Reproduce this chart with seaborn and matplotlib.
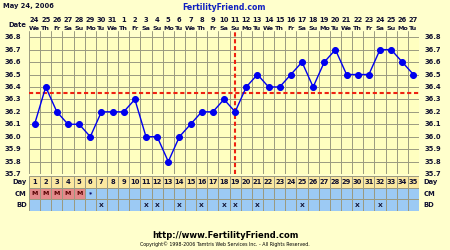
import matplotlib
matplotlib.use("Agg")
import matplotlib.pyplot as plt
import seaborn as sns
import pandas as pd
from matplotlib.patches import Rectangle

# ---- data ----
days = list(range(1, 36))
temps = [36.1, 36.4, 36.2, 36.1, 36.1, 36.0, 36.2, 36.2, 36.2, 36.3,
         36.0, 36.0, 35.8, 36.0, 36.1, 36.2, 36.2, 36.3, 36.2, 36.4,
         36.5, 36.4, 36.4, 36.5, 36.6, 36.4, 36.6, 36.7, 36.5, 36.5,
         36.5, 36.7, 36.7, 36.6, 36.5]
dates = ['24', '25', '26', '27', '28', '29', '30', '31'] + [str(d) for d in range(1, 28)]
weekdays_cycle = ['We', 'Th', 'Fr', 'Sa', 'Su', 'Mo', 'Tu']
weekdays = [weekdays_cycle[i % 7] for i in range(35)]
cm = ['M', 'M', 'M', 'M', 'M', '*'] + [''] * 29
bd_days = [7, 11, 12, 14, 16, 18, 19, 21, 25, 30, 32]
y_ticks = [35.7, 35.8, 35.9, 36.0, 36.1, 36.2, 36.3, 36.4, 36.5, 36.6, 36.7, 36.8]
coverline = 36.35
ovulation_day = 19
title_text = "May 24, 2006"
site_text = "FertilityFriend.com"
url_text = "http://www.FertilityFriend.com"
copyright_text = "Copyright\u00a9 1998-2006 Tamtris Web Services Inc. - All Rights Reserved."

# ---- style ----
sns.set_style("white")
plt.rcParams['font.family'] = ['DejaVu Sans']
BG = '#FFFFCC'
PLOT_BG = '#FFFFC0'
GRID = '#9A9A80'
TXT = '#101030'
FS = 4.9

W, H = 450, 250
fig = plt.figure(figsize=(4.5, 2.5), dpi=100)
fig.patch.set_facecolor(BG)

def px_rect(x0, y0, x1, y1):
    return [x0 / W, 1 - y1 / H, (x1 - x0) / W, (y1 - y0) / H]

L, R = 29, 419
ax = fig.add_axes(px_rect(L, 31, R, 174))
ax.set_facecolor(PLOT_BG)
ax.set_xlim(0.5, 35.5)
ax.set_ylim(35.7, 36.85)
for s in ax.spines.values():
    s.set_visible(False)

# grid
for yv in y_ticks:
    ax.axhline(yv, color=GRID, lw=0.7, zorder=1)
for xv in [d + 0.5 for d in range(0, 36)]:
    ax.axvline(xv, color=GRID, lw=0.7, zorder=1)
ax.axhspan(36.8, 36.85, color=BG, zorder=0.5)

df = pd.DataFrame({'day': days, 'temp': temps})
sns.lineplot(data=df, x='day', y='temp', ax=ax, color='#0000EE', lw=1.0,
             marker='o', markersize=4.3, markeredgecolor='#0000EE', zorder=5)

ax.axhline(coverline, color='#EE2211', lw=1.5, ls=(0, (2, 1.3)), zorder=4)
ax.plot([ovulation_day, ovulation_day], [35.7, 36.85], color='#EE2211', lw=1.5,
        ls=(0, (2, 1.3)), zorder=4)

ax.set_xticks([])
ax.set_yticks([])
ax.set_xlabel('')
ax.set_ylabel('')
for yv in y_ticks:
    lab = f"{yv:.1f}"
    ax.text(-0.2, yv, lab, ha='right', va='center', fontsize=FS, fontweight='bold',
            color=TXT, transform=ax.transData, clip_on=False)
    ax.text(36.0, yv, lab, ha='left', va='center', fontsize=FS, fontweight='bold',
            color=TXT, transform=ax.transData, clip_on=False)

# header dates
for d, dt, wd in zip(days, dates, weekdays):
    xc = (L + (d - 0.5) * (R - L) / 35) / W
    fig.text(xc, 1 - 20 / H, dt, ha='center', va='center',
             fontsize=FS, fontweight='bold', color=TXT)
    fig.text(xc, 1 - 28 / H, wd, ha='center', va='center',
             fontsize=FS - 0.3, fontweight='bold', color=TXT)
fig.text(26 / W, 1 - 25 / H, 'Date', ha='right', va='center', fontsize=FS,
         fontweight='bold', color=TXT)

# bottom table
tax = fig.add_axes(px_rect(L, 176, R, 211))
tax.set_xlim(0.5, 35.5)
tax.set_ylim(0, 3)
tax.axis('off')
for d in days:
    tax.add_patch(Rectangle((d - 0.5, 2), 1, 1, facecolor='#FBE8A0', edgecolor=GRID, lw=0.7))
    tax.text(d, 2.5, str(d), ha='center', va='center', fontsize=FS, fontweight='bold', color=TXT)
    c = cm[d - 1]
    fc = '#E48A8A' if c == 'M' else '#9CCAF4'
    tax.add_patch(Rectangle((d - 0.5, 1), 1, 1, facecolor=fc, edgecolor=GRID, lw=0.7))
    if c:
        tax.text(d, 1.5, c, ha='center', va='center', fontsize=FS - 0.4, fontweight='bold',
                 color='#550000' if c == 'M' else '#000066')
    tax.add_patch(Rectangle((d - 0.5, 0), 1, 1, facecolor='#9CCAF4', edgecolor=GRID, lw=0.7))
    if d in bd_days:
        tax.text(d, 0.5, 'X', ha='center', va='center', fontsize=FS - 0.4, fontweight='bold',
                 color=TXT)
for yy, lab in [(2.5, 'Day'), (1.5, 'CM'), (0.5, 'BD')]:
    tax.text(0.3, yy, lab, ha='right', va='center', fontsize=FS, fontweight='bold', color=TXT,
             clip_on=False)
    tax.text(35.9, yy, lab, ha='left', va='center', fontsize=FS, fontweight='bold', color=TXT,
             clip_on=False)

# titles
fig.text(3 / W, 1 - 6 / H, title_text, ha='left', va='center', fontsize=FS,
         fontweight='bold', color=TXT)
fig.text(224 / W, 1 - 7 / H, site_text, ha='center', va='center', fontsize=5.6,
         fontweight='bold', color='#1020C0')
fig.text(225 / W, 1 - 235 / H, url_text, ha='center', va='center', fontsize=6.0,
         fontweight='bold', color='#000000')
fig.text(225 / W, 1 - 244 / H, copyright_text, ha='center', va='center', fontsize=3.4,
         color='#000000')

fig.savefig('out.png', dpi=100, facecolor=BG)
